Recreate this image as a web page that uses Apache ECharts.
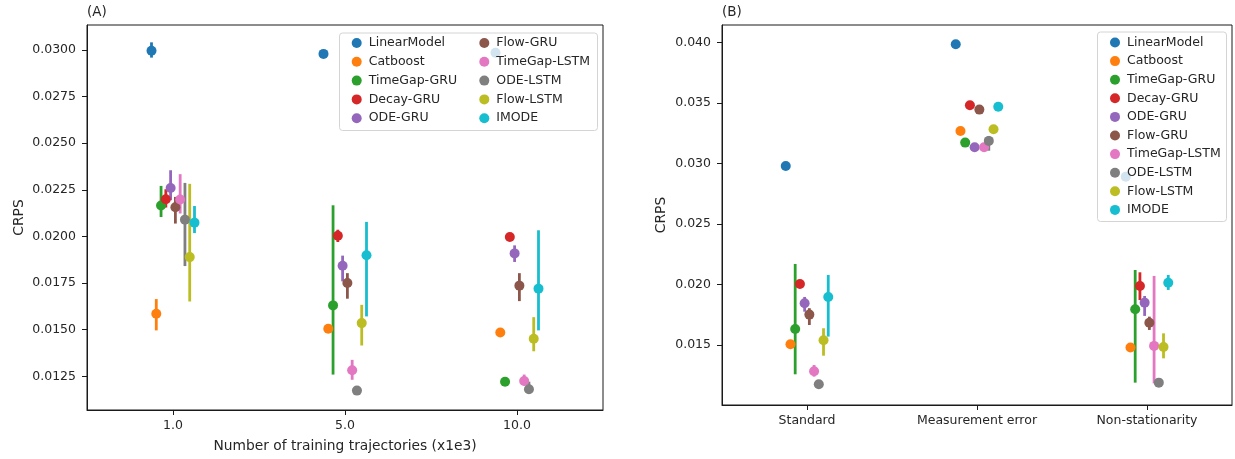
<!DOCTYPE html>
<html>
<head>
<meta charset="utf-8">
<script src="https://cdn.jsdelivr.net/npm/echarts@6/dist/echarts.min.js"></script>
<style>
  html, body { margin: 0; padding: 0; background: #fff; }
  #chart { width: 1235px; height: 459px; }
</style>
</head>
<body>
<div id="chart"></div>
<script>
// Models compared (hue order) and their tab10 colours
const models = ['LinearModel', 'Catboost', 'TimeGap-GRU', 'Decay-GRU', 'ODE-GRU',
                'Flow-GRU', 'TimeGap-LSTM', 'ODE-LSTM', 'Flow-LSTM', 'IMODE'];
const colors = ['#1f77b4', '#ff7f0e', '#2ca02c', '#d62728', '#9467bd',
                '#8c564b', '#e377c2', '#7f7f7f', '#bcbd22', '#17becf'];

// Panel (A): CRPS by number of training trajectories (x1e3)
const trajLabels = ['1.0', '5.0', '10.0'];
const trajMean = [
  [0.02996, 0.02979, 0.02985],
  [0.01585, 0.01505, 0.01485],
  [0.02166, 0.01630, 0.01221],
  [0.02199, 0.02004, 0.01997],
  [0.02260, 0.01843, 0.01909],
  [0.02156, 0.01750, 0.01736],
  [0.02198, 0.01282, 0.01225],
  [0.02090, 0.01173, 0.01180],
  [0.01889, 0.01535, 0.01451],
  [0.02074, 0.01899, 0.01720]
];
const trajLow = [
  [0.02959, 0.02970, 0.02976],
  [0.01496, 0.01500, 0.01480],
  [0.02104, 0.01259, 0.01215],
  [0.02155, 0.01970, 0.01985],
  [0.02194, 0.01759, 0.01863],
  [0.02069, 0.01666, 0.01653],
  [0.02123, 0.01231, 0.01200],
  [0.01841, 0.01168, 0.01157],
  [0.01651, 0.01415, 0.01384],
  [0.02018, 0.01571, 0.01496]
];
const trajHigh = [
  [0.03041, 0.02988, 0.02994],
  [0.01664, 0.01510, 0.01490],
  [0.02271, 0.02167, 0.01227],
  [0.02253, 0.02036, 0.02010],
  [0.02355, 0.01897, 0.01952],
  [0.02212, 0.01803, 0.01803],
  [0.02334, 0.01338, 0.01259],
  [0.02287, 0.01178, 0.01221],
  [0.02282, 0.01633, 0.01567],
  [0.02163, 0.02078, 0.02033]
];
const trajTicks = [0.0125, 0.0150, 0.0175, 0.0200, 0.0225, 0.0250, 0.0275, 0.0300];

// Panel (B): CRPS by data scenario
const scenarioLabels = ['Standard', 'Measurement error', 'Non-stationarity'];
const scenMean = [
  [0.02980, 0.03987, 0.02890],
  [0.01505, 0.03269, 0.01477],
  [0.01631, 0.03173, 0.01794],
  [0.02003, 0.03482, 0.01987],
  [0.01844, 0.03135, 0.01849],
  [0.01750, 0.03446, 0.01683],
  [0.01281, 0.03135, 0.01491],
  [0.01174, 0.03187, 0.01187],
  [0.01538, 0.03283, 0.01482],
  [0.01896, 0.03470, 0.02014]
];
const scenLow = [
  [0.02970, 0.03978, 0.02880],
  [0.01498, 0.03260, 0.01470],
  [0.01256, 0.03165, 0.01187],
  [0.01985, 0.03470, 0.01870],
  [0.01774, 0.03125, 0.01739],
  [0.01664, 0.03435, 0.01623],
  [0.01237, 0.03125, 0.01181],
  [0.01168, 0.03106, 0.01165],
  [0.01410, 0.03272, 0.01388],
  [0.01568, 0.03460, 0.01954]
];
const scenHigh = [
  [0.02990, 0.03996, 0.02900],
  [0.01512, 0.03278, 0.01484],
  [0.02169, 0.03181, 0.02119],
  [0.02020, 0.03494, 0.02100],
  [0.01896, 0.03145, 0.01904],
  [0.01803, 0.03457, 0.01733],
  [0.01333, 0.03145, 0.02070],
  [0.01180, 0.03228, 0.01210],
  [0.01637, 0.03294, 0.01595],
  [0.02078, 0.03480, 0.02078]
];
const scenTicks = [0.015, 0.020, 0.025, 0.030, 0.035, 0.040];

const FONT = 'DejaVu Sans';
const TEXT = '#262626';
const AXIS = '#1a1a1a';
const FS = 12.5;
const FS_NAME = 13.8;
const dodgeStep = 0.25 / (models.length - 1);

function xAxisFor(gridIndex, labels, name) {
  return {
    type: 'value', gridIndex, min: -0.5, max: 2.5,
    name, nameLocation: 'middle', nameGap: 29,
    nameTextStyle: { fontFamily: FONT, fontSize: FS_NAME, color: TEXT },
    axisLine: { show: true, onZero: false, lineStyle: { color: AXIS, width: 1 } },
    axisTick: { show: true, inside: false, length: 5, customValues: [0, 1, 2], lineStyle: { color: AXIS } },
    axisLabel: {
      customValues: [0, 1, 2], margin: 9,
      fontFamily: FONT, fontSize: FS, color: TEXT,
      formatter: v => labels[Math.round(v)]
    },
    splitLine: { show: false }
  };
}

function yAxisFor(gridIndex, min, max, ticks, digits, gap) {
  return {
    type: 'value', gridIndex, min, max, position: 'left',
    name: 'CRPS', nameLocation: 'middle', nameGap: gap,
    nameTextStyle: { fontFamily: FONT, fontSize: FS_NAME, color: TEXT },
    axisLine: { show: true, onZero: false, lineStyle: { color: AXIS, width: 1 } },
    axisTick: { show: true, inside: false, length: 5, customValues: ticks, lineStyle: { color: AXIS } },
    axisLabel: {
      customValues: ticks, margin: 11,
      fontFamily: FONT, fontSize: FS, color: TEXT,
      formatter: v => v.toFixed(digits)
    },
    splitLine: { show: false }
  };
}

// error bars + points for each model, dodged around each group
function panelSeries(axisIndex, mean, low, high) {
  const out = [];
  models.forEach((m, i) => {
    const off = (i - (models.length - 1) / 2) * dodgeStep;
    const bars = mean[i].map((_, g) => [g + off, low[i][g], high[i][g]]);
    const pts = mean[i].map((v, g) => [g + off, v]);
    out.push({
      name: m, type: 'custom', xAxisIndex: axisIndex, yAxisIndex: axisIndex,
      itemStyle: { color: colors[i] },
      encode: { x: 0, y: [1, 2] },
      data: bars, silent: true,
      renderItem: (params, api) => {
        const a = api.coord([api.value(0), api.value(1)]);
        const b = api.coord([api.value(0), api.value(2)]);
        return {
          type: 'line',
          shape: { x1: a[0], y1: a[1], x2: b[0], y2: b[1] },
          style: { stroke: colors[i], lineWidth: 2.8 }
        };
      }
    });
    out.push({
      name: m, type: 'scatter', xAxisIndex: axisIndex, yAxisIndex: axisIndex,
      symbol: 'circle', symbolSize: 10,
      itemStyle: { color: colors[i], opacity: 1 },
      data: pts, silent: true
    });
  });
  return out;
}

function legendFor(names, left, top, gap) {
  return {
    orient: 'vertical', left, top, padding: 0, itemGap: gap,
    icon: 'circle', itemWidth: 10, itemHeight: 10,
    selectedMode: false,
    textStyle: { fontFamily: FONT, fontSize: FS, color: TEXT, lineHeight: 14, padding: [0, 0, 0, 2] },
    data: names
  };
}

const chart = echarts.init(document.getElementById('chart'), null, { renderer: 'canvas' });
chart.setOption({
  animation: false,
  backgroundColor: '#fff',
  title: [
    { text: '(A)', left: 87, top: 5, padding: 0,
      textStyle: { fontFamily: FONT, fontSize: 13.5, fontWeight: 'normal', color: TEXT } },
    { text: '(B)', left: 722, top: 5, padding: 0,
      textStyle: { fontFamily: FONT, fontSize: 13.5, fontWeight: 'normal', color: TEXT } }
  ],
  grid: [
    { left: 87, top: 25, width: 516, height: 385, show: true, borderColor: AXIS, borderWidth: 1, backgroundColor: 'transparent' },
    { left: 722, top: 25, width: 510, height: 380, show: true, borderColor: AXIS, borderWidth: 1, backgroundColor: 'transparent' }
  ],
  xAxis: [
    xAxisFor(0, trajLabels, 'Number of training trajectories (x1e3)'),
    xAxisFor(1, scenarioLabels, '')
  ],
  yAxis: [
    yAxisFor(0, 0.01069, 0.03134, trajTicks, 4, 61),
    yAxisFor(1, 0.01002, 0.04146, scenTicks, 3, 54)
  ],
  legend: [
    legendFor(models.slice(0, 5), 351.7, 36, 4.8),
    legendFor(models.slice(5), 479.3, 36, 4.8),
    legendFor(models, 1110, 35.5, 4.6)
  ],
  graphic: {
    elements: [
      { type: 'rect', z: 3, left: 339, top: 32.5, shape: { width: 258, height: 97.5, r: 3 },
        style: { fill: 'rgba(255,255,255,0.8)', stroke: '#d4d4d4', lineWidth: 1 } },
      { type: 'rect', z: 3, left: 1097, top: 31.5, shape: { width: 129, height: 189.5, r: 3 },
        style: { fill: 'rgba(255,255,255,0.8)', stroke: '#d4d4d4', lineWidth: 1 } }
    ]
  },
  series: [
    ...panelSeries(0, trajMean, trajLow, trajHigh),
    ...panelSeries(1, scenMean, scenLow, scenHigh)
  ]
});
</script>
</body>
</html>
